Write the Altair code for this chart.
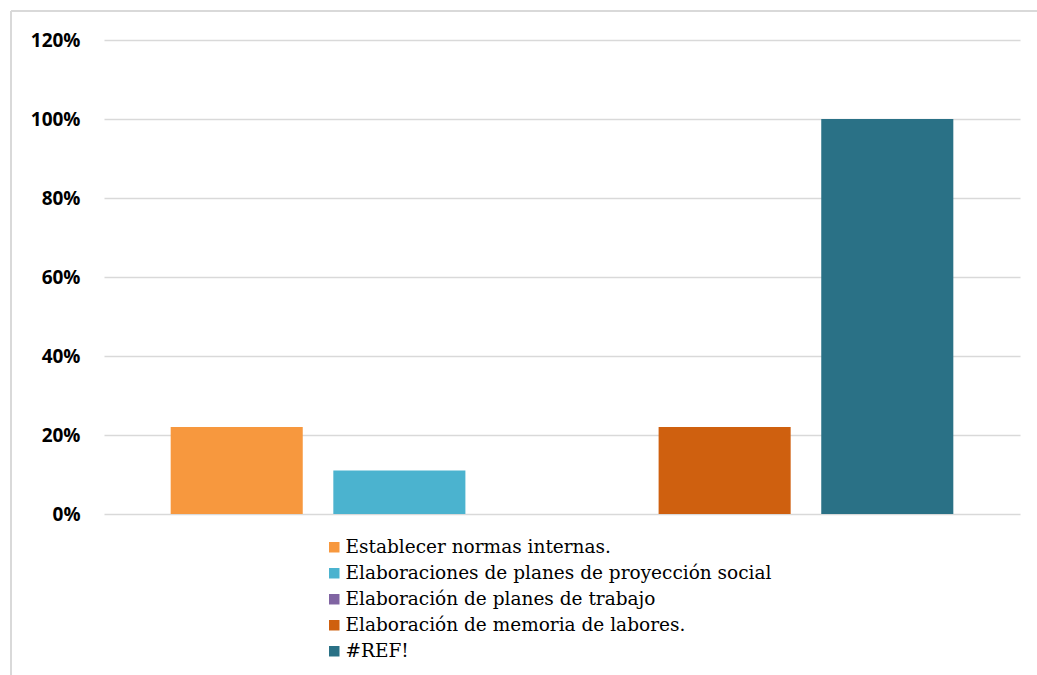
import altair as alt
import pandas as pd

series = [
    "Establecer normas internas.",
    "Elaboraciones de planes de proyección social",
    "Elaboración de planes de trabajo",
    "Elaboración de memoria de labores.",
    "#REF!",
]
values = [0.22, 0.11, 0.0, 0.22, 1.0]
colors = ["#F7983E", "#4BB3CF", "#8064A2", "#CF600F", "#2A7186"]
y_ticks = [0, 0.2, 0.4, 0.6, 0.8, 1.0, 1.2]

df = pd.DataFrame({"serie": series, "valor": values})

W, H = 916, 474
SERIF = "DejaVu Serif"

bars = alt.Chart(df).mark_bar().encode(
    x=alt.X("serie:N", sort=series, axis=None,
            scale=alt.Scale(paddingInner=0.188, paddingOuter=0.41)),
    y=alt.Y("valor:Q",
            scale=alt.Scale(domain=[0, 1.2], nice=False),
            axis=alt.Axis(values=y_ticks, format=".0%", title=None,
                          domain=False, ticks=False, labelPadding=24,
                          labelFont="Open Sans", labelFontWeight="bold",
                          labelFontSize=19, labelColor="#000000",
                          gridColor="#D9D9D9", gridWidth=1.5)),
    color=alt.Color("serie:N", sort=series,
                    scale=alt.Scale(domain=series, range=colors),
                    legend=alt.Legend(orient="none", legendX=221, legendY=498,
                                      title=None, symbolType="square",
                                      symbolSize=110, symbolStrokeWidth=0,
                                      labelFont=SERIF,
                                      labelFontSize=18.5, labelColor="#000000",
                                      labelLimit=700, rowPadding=7,
                                      labelOffset=2)),
)

border = pd.DataFrame({"k": [0]})
top_border = alt.Chart(border).mark_rule(color="#D9D9D9", strokeWidth=2).encode(
    x=alt.value(-93), x2=alt.value(940), y=alt.value(-29)
)
left_border = alt.Chart(border).mark_rule(color="#D9D9D9", strokeWidth=2).encode(
    x=alt.value(-93), y=alt.value(-29), y2=alt.value(640)
)

chart = alt.layer(bars, top_border, left_border).properties(
    width=W, height=H,
    background="white",
    autosize=alt.AutoSizeParams(type="none"),
    padding={"left": 104, "top": 40, "right": 17, "bottom": 161},
).configure_view(
    strokeWidth=0, stroke="transparent"
)

chart.save("out.html", embed_options={"renderer": "svg", "actions": False})
